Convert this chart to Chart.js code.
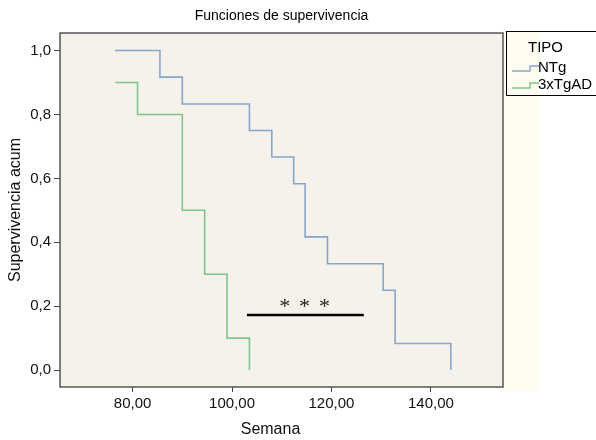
<!DOCTYPE html>
<html>
<head>
<meta charset="utf-8">
<script src="https://cdn.jsdelivr.net/npm/chart.js@4"></script>
<style>
  body { margin: 0; background: #fff; }
  canvas { display: block; }
</style>
</head>
<body>
<canvas id="survChart" width="596" height="440"></canvas>
<script>
// Kaplan-Meier data
const ntgWeeks = [76.5, 85.5, 90, 103.5, 108, 112.4, 114.7, 119.2, 130.4, 132.8, 144];
const ntgSurv = [1, 0.917, 0.833, 0.75, 0.667, 0.583, 0.417, 0.333, 0.25, 0.083, 0];
const tgWeeks = [76.5, 81, 90, 94.5, 99, 103.5];
const tgSurv = [0.9, 0.8, 0.5, 0.3, 0.1, 0];

// significance bar and stars
const sigWeeks = [103, 126.5];
const sigLevel = 0.172;
const starWeeks = [110.6, 114.6, 118.6];
const starLevel = 0.21;

const xTicks = [80, 100, 120, 140];
const yTicks = [0, 0.2, 0.4, 0.6, 0.8, 1.0];

const seriesNames = ['NTg', '3xTgAD'];
const blue = '#88a6cc';
const green = '#7fc58b';

const toPts = (xs, ys) => xs.map((x, i) => ({ x: x, y: ys[i] }));

// background, frame, legend, stars and x title
const decorPlugin = {
  id: 'decor',
  beforeDraw(chart) {
    const { ctx, chartArea: a } = chart;
    ctx.save();
    ctx.fillStyle = '#fff';
    ctx.fillRect(0, 0, chart.width, chart.height);
    ctx.fillStyle = '#fdfcee';
    ctx.fillRect(a.right, 31, 37, 360);
    ctx.fillStyle = '#f5f2eb';
    ctx.fillRect(a.left, a.top, a.right - a.left, a.bottom - a.top);
    ctx.restore();
  },
  afterDraw(chart) {
    const { ctx, chartArea: a, scales } = chart;
    ctx.save();
    // frame
    ctx.strokeStyle = '#555';
    ctx.lineWidth = 1.5;
    ctx.strokeRect(a.left, a.top, a.right - a.left, a.bottom - a.top);

    // stars
    ctx.fillStyle = '#222';
    ctx.font = '22px "Liberation Serif"';
    ctx.textAlign = 'center';
    ctx.textBaseline = 'alphabetic';
    const m = ctx.measureText('*');
    const mid = (m.actualBoundingBoxAscent - m.actualBoundingBoxDescent) / 2;
    starWeeks.forEach(w => {
      ctx.fillText('*', scales.x.getPixelForValue(w), scales.y.getPixelForValue(starLevel) + mid);
    });

    // x axis title, sits a bit left of the plot centre
    ctx.fillStyle = '#111';
    ctx.font = '16px "Liberation Sans"';
    ctx.textBaseline = 'middle';
    ctx.fillText('Semana', (a.left + a.right) / 2 - 11, 430);

    // legend
    const lx = 506.5, ly = 31.5;
    ctx.strokeStyle = '#000';
    ctx.lineWidth = 1;
    ctx.strokeRect(lx, ly, 120, 64);
    ctx.fillStyle = '#000';
    ctx.font = '15px "Liberation Sans"';
    ctx.textAlign = 'left';
    ctx.fillText('TIPO', 528, 48);
    [blue, green].forEach((col, i) => {
      const y = 68 + i * 17;
      ctx.strokeStyle = col;
      ctx.lineWidth = 1.5;
      ctx.beginPath();
      ctx.moveTo(512, y + 3);
      ctx.lineTo(530, y + 3);
      ctx.lineTo(530, y - 2);
      ctx.lineTo(539, y - 2);
      ctx.stroke();
      ctx.fillText(seriesNames[i], 538, y);
    });
    ctx.restore();
  }
};

const ctx = document.getElementById('survChart').getContext('2d');
const chart = new Chart(ctx, {
  type: 'line',
  data: {
    datasets: [
      { label: seriesNames[0], data: toPts(ntgWeeks, ntgSurv), borderColor: blue, borderWidth: 1.6, stepped: 'before', pointRadius: 0, fill: false },
      { label: seriesNames[1], data: toPts(tgWeeks, tgSurv), borderColor: green, borderWidth: 1.6, stepped: 'before', pointRadius: 0, fill: false },
      { label: 'p', data: toPts(sigWeeks, [sigLevel, sigLevel]), borderColor: '#000', borderWidth: 2.5, pointRadius: 0, fill: false }
    ]
  },
  options: {
    responsive: false,
    animation: false,
    devicePixelRatio: 1,
    layout: { padding: { left: 0, right: 93, top: 0, bottom: 0 } },
    plugins: {
      legend: { display: false },
      tooltip: { enabled: false },
      title: {
        display: true,
        text: 'Funciones de supervivencia',
        color: '#000',
        fullSize: false,
        font: { family: 'Liberation Sans', size: 14, weight: 'normal' },
        padding: { top: 8, bottom: 8.2 }
      }
    },
    scales: {
      x: {
        type: 'linear',
        min: 65.4,
        max: 154.5,
        afterBuildTicks: s => { s.ticks = xTicks.map(v => ({ value: v })); },
        afterFit: s => { s.height = 53; },
        ticks: {
          color: '#111',
          font: { family: 'Liberation Sans', size: 15 },
          padding: 3,
          maxRotation: 0,
          callback: v => v.toFixed(2).replace('.', ',')
        },
        grid: { drawOnChartArea: false, drawTicks: true, tickLength: 5, color: '#444' },
        border: { display: false },
        title: { display: false }
      },
      y: {
        type: 'linear',
        min: -0.053,
        max: 1.055,
        afterBuildTicks: s => { s.ticks = yTicks.map(v => ({ value: v })); },
        afterFit: s => { s.width = 60; },
        ticks: {
          color: '#111',
          font: { family: 'Liberation Sans', size: 15 },
          padding: 3,
          callback: v => v.toFixed(1).replace('.', ',')
        },
        grid: { drawOnChartArea: false, drawTicks: true, tickLength: 6, color: '#444' },
        border: { display: false },
        title: {
          display: true,
          text: 'Supervivencia acum',
          color: '#111',
          font: { family: 'Liberation Sans', size: 16 },
          padding: { top: 6, bottom: 0 }
        }
      }
    }
  },
  plugins: [decorPlugin]
});
</script>
</body>
</html>
